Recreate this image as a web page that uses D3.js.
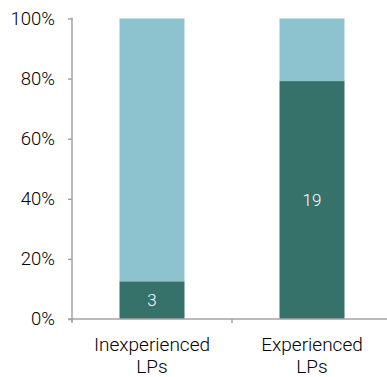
<!DOCTYPE html>
<html>
<head>
<meta charset="utf-8">
<script src="https://cdn.jsdelivr.net/npm/d3@7"></script>
<style>
  html, body { margin: 0; padding: 0; background: #fff; }
  svg { display: block; }
  text { font-family: Roboto, "Liberation Sans", Arial, sans-serif; font-weight: 300; }
</style>
</head>
<body>
<svg id="chart" width="387" height="377"></svg>
<script>
// LP groups and counts in each group
const categories = ["Inexperienced LPs", "Experienced LPs"];
const darkCounts = [3, 19];
const lightCounts = [21, 5];
const tickValues = [0, 0.2, 0.4, 0.6, 0.8, 1];

const colors = { dark: "#36716a", light: "#8dc3ce", axis: "#a3a3a3" };
const font = "Roboto, 'Liberation Sans', Arial, sans-serif";

const svg = d3.select("#chart");
const W = 387;
const plot = { left: 72, top: 18.5, bottom: 319, right: 392 };

const x = d3.scaleBand().domain(categories).range([plot.left, plot.right]).padding(0);
const y = d3.scaleLinear().domain([0, 1]).range([plot.bottom, plot.top]);
const barW = 65;

const rows = categories.map((c, i) => {
  const total = darkCounts[i] + lightCounts[i];
  return { cat: c, dark: darkCounts[i], share: darkCounts[i] / total };
});

// stacked bars: dark share at the bottom, remainder on top
const g = svg.append("g");
g.selectAll("rect.light").data(rows).join("rect")
  .attr("class", "light")
  .attr("x", d => x(d.cat) + x.bandwidth() / 2 - barW / 2)
  .attr("width", barW)
  .attr("y", y(1))
  .attr("height", d => y(d.share) - y(1))
  .attr("fill", colors.light);

g.selectAll("rect.dark").data(rows).join("rect")
  .attr("class", "dark")
  .attr("x", d => x(d.cat) + x.bandwidth() / 2 - barW / 2)
  .attr("width", barW)
  .attr("y", d => y(d.share))
  .attr("height", d => y(0) - y(d.share))
  .attr("fill", colors.dark);

g.selectAll("text.val").data(rows).join("text")
  .attr("class", "val")
  .attr("x", d => x(d.cat) + x.bandwidth() / 2)
  .attr("y", d => (y(0) + y(d.share)) / 2)
  .attr("dy", "0.36em")
  .attr("text-anchor", "middle")
  .attr("fill", "#fff")
  .attr("font-size", 17)
  .text(d => d.dark);

// y axis
const yAxis = svg.append("g")
  .attr("transform", `translate(${plot.left},0)`)
  .call(d3.axisLeft(y).tickValues(tickValues).tickFormat(d3.format(".0%"))
    .tickSize(4).tickPadding(13));
yAxis.select(".domain").remove();
yAxis.append("line")
  .attr("x1", 0).attr("x2", 0)
  .attr("y1", y(1) - 1).attr("y2", y(0) + 3)
  .attr("stroke", colors.axis).attr("stroke-width", 1.5);
yAxis.selectAll(".tick line").attr("stroke", colors.axis).attr("stroke-width", 1.5);
yAxis.selectAll(".tick text")
  .attr("fill", "#000").attr("font-size", 18.5)
  .style("font-family", font).style("font-weight", 300);

// x axis line with category boundary ticks
svg.append("line")
  .attr("x1", plot.left - 4).attr("x2", W)
  .attr("y1", y(0)).attr("y2", y(0))
  .attr("stroke", colors.axis).attr("stroke-width", 1.5);
svg.selectAll("line.xtick").data(categories).join("line")
  .attr("class", "xtick")
  .attr("x1", d => x(d)).attr("x2", d => x(d))
  .attr("y1", y(0)).attr("y2", y(0) + 4)
  .attr("stroke", colors.axis).attr("stroke-width", 1.5);

// category labels on two lines
const labels = svg.selectAll("text.cat").data(categories).join("text")
  .attr("class", "cat")
  .attr("text-anchor", "middle")
  .attr("fill", "#000")
  .attr("font-size", 19);
labels.each(function(d) {
  const parts = d.split(" ");
  const t = d3.select(this);
  const cx = x(d) + x.bandwidth() / 2;
  t.append("tspan").attr("x", cx).attr("y", 351).text(parts[0]);
  t.append("tspan").attr("x", cx).attr("y", 373).text(parts.slice(1).join(" "));
});
</script>
</body>
</html>
